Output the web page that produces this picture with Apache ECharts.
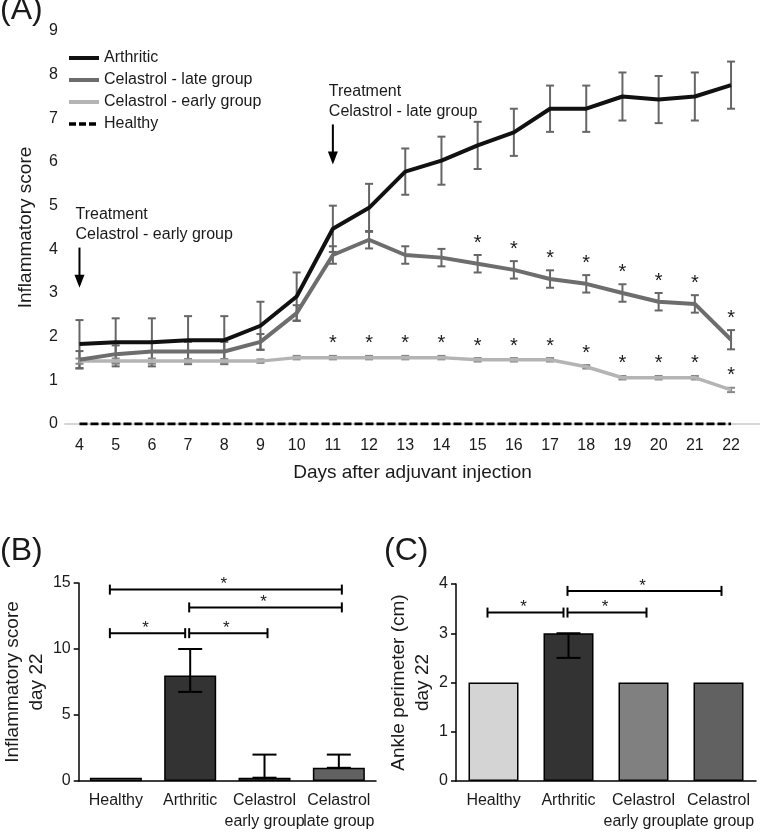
<!DOCTYPE html>
<html><head><meta charset="utf-8">
<script src="https://cdn.jsdelivr.net/npm/echarts@6/dist/echarts.min.js"></script>
<style>html,body{margin:0;padding:0;background:#fff}#c{width:760px;height:832px}</style>
</head><body><div id="c"></div>
<script>
// ---------- Panel A data ----------
const days = [4,5,6,7,8,9,10,11,12,13,14,15,16,17,18,19,20,21,22];
const arthritic    = [1.83,1.87,1.87,1.92,1.92,2.25,2.92,4.47,4.95,5.78,6.03,6.38,6.68,7.22,7.22,7.50,7.43,7.50,7.76];
const arthriticErr = [0.55,0.55,0.55,0.55,0.55,0.55,0.55,0.53,0.55,0.53,0.55,0.54,0.54,0.53,0.53,0.55,0.54,0.55,0.54];
const lateGroup    = [1.47,1.60,1.66,1.66,1.66,1.88,2.54,3.87,4.22,3.87,3.81,3.67,3.53,3.32,3.21,3.00,2.80,2.75,1.93];
const lateErr      = [0.20,0.20,0.22,0.22,0.22,0.18,0.18,0.20,0.20,0.20,0.20,0.20,0.20,0.20,0.20,0.20,0.20,0.20,0.22];
const earlyGroup   = [1.44,1.44,1.44,1.44,1.44,1.44,1.52,1.52,1.52,1.52,1.52,1.47,1.47,1.47,1.31,1.06,1.06,1.06,0.78];
const earlyErr     = [0.06,0.06,0.06,0.05,0.05,0.04,0.04,0.04,0.04,0.04,0.04,0.04,0.04,0.04,0.04,0.04,0.04,0.04,0.05];
const healthy      = [0,0,0,0,0,0,0,0,0,0,0,0,0,0,0,0,0,0,0];
const lateStarDays  = [15,16,17,18,19,20,21,22];
const earlyStarDays = [11,12,13,14,15,16,17,18,19,20,21,22];

// ---------- Panel B / C data ----------
const groups = ['Healthy','Arthritic','Celastrol\nearly group','Celastrol\nlate group'];
const scoreDay22 = [0.25, 8, 0.25, 1];
const scoreLow   = [null, 6.75, 0.25, 1];
const scoreHigh  = [null, 10, 2, 2];
const ankleDay22 = [2, 3, 2, 2];
const ankleLow   = [null, 2.5, null, null];
const ankleHigh  = [null, 3, null, null];
const scoreSig = [[0,3,14.5],[1,3,13.15],[0,1,11.2],[1,2,11.2]];
const ankleSig = [[0,1,3.42],[1,2,3.42],[1,3,3.86]];

// ---------- styles ----------
const FONT = 'Liberation Sans, Arial, Helvetica, sans-serif';
const TXT = '#1a1a1a';
const barColors = ['#d4d4d4','#333333','#808080','#616161'];
const cArth = '#111111', cLate = '#6d6d6d', cEarly = '#b4b4b4', cErr = '#666666';

const chart = echarts.init(document.getElementById('c'), null, {renderer:'canvas'});

function errBarItem(color, cap, lw){
  return function(params, api){
    const x = api.value(0), y = api.value(1), e = api.value(2);
    const t = api.coord([x, y + e]), b = api.coord([x, y - e]);
    const st = {stroke: color, lineWidth: lw};
    return {type:'group', children:[
      {type:'line', shape:{x1:t[0],y1:t[1],x2:b[0],y2:b[1]}, style:st},
      {type:'line', shape:{x1:t[0]-cap,y1:t[1],x2:t[0]+cap,y2:t[1]}, style:st},
      {type:'line', shape:{x1:b[0]-cap,y1:b[1],x2:b[0]+cap,y2:b[1]}, style:st}
    ]};
  };
}
function starItem(params, api){
  const x = api.value(0), top = api.value(1) + api.value(2);
  const p = api.coord([x, top]);
  return {type:'text', style:{text:'*', x:p[0], y:p[1]-12, font:'20px '+FONT, fill:TXT,
    align:'center', verticalAlign:'middle', textAlign:'center', textVerticalAlign:'middle'}};
}
function annItem(params, api){
  const x = api.value(0), y1 = api.value(1), y2 = api.value(2);
  const a = api.coord([x, y1]), b = api.coord([x, y2]);
  const txt = params.dataIndex === 0 ? 'Treatment\nCelastrol - early group' : 'Treatment\nCelastrol - late group';
  return {type:'group', children:[
    {type:'line', shape:{x1:a[0],y1:a[1],x2:b[0],y2:b[1]-10}, style:{stroke:'#000',lineWidth:2}},
    {type:'polygon', shape:{points:[[b[0]-5,b[1]-13],[b[0]+5,b[1]-13],[b[0],b[1]]]}, style:{fill:'#000'}},
    {type:'text', style:{text:txt, x:a[0]-4, y:a[1]-3, font:'16px '+FONT, fill:TXT, lineHeight:20,
      align:'left', verticalAlign:'bottom', textAlign:'left', textVerticalAlign:'bottom'}}
  ]};
}
function catErrItem(params, api){
  const i = api.value(0), lo = api.value(1), hi = api.value(2);
  const t = api.coord([i, hi]), b = api.coord([i, lo]);
  const st = {stroke:'#000', lineWidth:2};
  return {type:'group', children:[
    {type:'line', shape:{x1:t[0],y1:t[1],x2:b[0],y2:b[1]}, style:st},
    {type:'line', shape:{x1:t[0]-12,y1:t[1],x2:t[0]+12,y2:t[1]}, style:st},
    {type:'line', shape:{x1:b[0]-12,y1:b[1],x2:b[0]+12,y2:b[1]}, style:st}
  ]};
}
function sigItem(params, api){
  const i1 = api.value(0), i2 = api.value(1), y = api.value(2);
  const p1 = api.coord([i1, y]), p2 = api.coord([i2, y]);
  const x1 = p1[0] + (i1 === 0 ? -6 : -1);
  const x2 = p2[0] + (i2 === 1 ? -5 : 3);
  const st = {stroke:'#000', lineWidth:2};
  return {type:'group', children:[
    {type:'line', shape:{x1:x1,y1:p1[1],x2:x2,y2:p1[1]}, style:st},
    {type:'line', shape:{x1:x1,y1:p1[1]-5,x2:x1,y2:p1[1]+5}, style:st},
    {type:'line', shape:{x1:x2,y1:p1[1]-5,x2:x2,y2:p1[1]+5}, style:st},
    {type:'text', style:{text:'*', x:(x1+x2)/2-2, y:p1[1]-5, font:'17px '+FONT, fill:TXT,
      align:'center', verticalAlign:'middle', textAlign:'center', textVerticalAlign:'middle'}}
  ]};
}

const zip = (a,b,c) => a.map((v,i)=>[v,b[i],c?c[i]:0]);
const starData = (sd, vals, errs) => sd.map(d => { const i = days.indexOf(d); return [d, vals[i], errs[i]]; });
const catAxisLabel = {color:TXT, fontSize:16, fontFamily:FONT, lineHeight:21, margin:9, interval:0};
const blk = {lineStyle:{color:'#000', width:1.5}};

const option = {
  animation:false,
  textStyle:{fontFamily:FONT},
  graphic:[
    {type:'text', left:0, top:-6, style:{text:'(A)', font:'32px '+FONT, fill:TXT}},
    {type:'text', left:0, top:535, style:{text:'(B)', font:'32px '+FONT, fill:TXT}},
    {type:'text', left:384, top:535, style:{text:'(C)', font:'32px '+FONT, fill:TXT}}
  ],
  legend:{
    left:62, top:44, orient:'vertical', itemWidth:30, itemHeight:14, itemGap:4,
    itemStyle:{opacity:0},
    data:[
      {name:'Arthritic', lineStyle:{width:4, color:cArth}},
      {name:'Celastrol - late group', lineStyle:{width:4, color:cLate}},
      {name:'Celastrol - early group', lineStyle:{width:4, color:cEarly}},
      {name:'Healthy', lineStyle:{width:3.5, color:'#000', type:[7,3]}}
    ],
    textStyle:{color:TXT, fontSize:16, fontFamily:FONT, lineHeight:18}
  },
  grid:[
    {left:65, top:31, width:695, height:393},
    {left:76, top:583, width:300, height:200},
    {left:456, top:584, width:300, height:200}
  ],
  xAxis:[
    {gridIndex:0, type:'value', min:3.6, max:22.8,
     axisLine:{show:true, onZero:false, lineStyle:{color:'#d6d6d6', width:2}},
     axisTick:{show:false}, splitLine:{show:false},
     axisLabel:{customValues:days, color:TXT, fontSize:16, fontFamily:FONT, margin:14},
     name:'Days after adjuvant injection', nameLocation:'middle', nameGap:39,
     nameTextStyle:{color:TXT, fontSize:19, fontFamily:FONT}},
    {gridIndex:1, type:'category', data:groups, axisLine:blk,
     axisTick:{alignWithLabel:true, length:5, lineStyle:{color:'#000', width:1.5}}, axisLabel:catAxisLabel},
    {gridIndex:2, type:'category', data:groups, axisLine:blk,
     axisTick:{alignWithLabel:true, length:5, lineStyle:{color:'#000', width:1.5}}, axisLabel:catAxisLabel}
  ],
  yAxis:[
    {gridIndex:0, type:'value', min:0, max:9, interval:1,
     axisLine:{show:false}, axisTick:{show:false}, splitLine:{show:false},
     axisLabel:{color:TXT, fontSize:16, fontFamily:FONT, margin:7},
     name:'Inflammatory score', nameLocation:'middle', nameGap:30,
     nameTextStyle:{color:TXT, fontSize:19, fontFamily:FONT}},
    {gridIndex:1, type:'value', min:0, max:15, interval:5,
     axisLine:{show:true, lineStyle:{color:'#000', width:1.5}},
     axisTick:{show:true, length:5, lineStyle:{color:'#000', width:1.5}}, splitLine:{show:false},
     axisLabel:{color:TXT, fontSize:16, fontFamily:FONT, margin:8},
     name:'Inflammatory score\nday 22', nameLocation:'middle', nameGap:29,
     nameTextStyle:{color:TXT, fontSize:19, fontFamily:FONT, lineHeight:24}},
    {gridIndex:2, type:'value', min:0, max:4, interval:1,
     axisLine:{show:true, lineStyle:{color:'#000', width:1.5}},
     axisTick:{show:true, length:5, lineStyle:{color:'#000', width:1.5}}, splitLine:{show:false},
     axisLabel:{color:TXT, fontSize:16, fontFamily:FONT, margin:8},
     name:'Ankle perimeter (cm)\nday 22', nameLocation:'middle', nameGap:20,
     nameTextStyle:{color:TXT, fontSize:19, fontFamily:FONT, lineHeight:24}}
  ],
  series:[
    {type:'custom', xAxisIndex:0, yAxisIndex:0, z:1, silent:true, renderItem:errBarItem(cErr,4,2), data:zip(days, arthritic, arthriticErr)},
    {type:'custom', xAxisIndex:0, yAxisIndex:0, z:1, silent:true, renderItem:errBarItem(cErr,4,2), data:zip(days, lateGroup, lateErr)},
    {type:'custom', xAxisIndex:0, yAxisIndex:0, z:1, silent:true, renderItem:errBarItem('#888',4,2), data:zip(days, earlyGroup, earlyErr)},
    {name:'Healthy', type:'line', xAxisIndex:0, yAxisIndex:0, z:3, symbol:'none', showSymbol:false,
     data:days.map((d,i)=>[d,healthy[i]]), lineStyle:{color:'#000', width:3, type:[8,3]}, itemStyle:{color:'#000'}},
    {name:'Celastrol - early group', type:'line', xAxisIndex:0, yAxisIndex:0, z:3, symbol:'none', showSymbol:false,
     data:days.map((d,i)=>[d,earlyGroup[i]]), lineStyle:{color:cEarly, width:3.5}, itemStyle:{color:cEarly}},
    {name:'Celastrol - late group', type:'line', xAxisIndex:0, yAxisIndex:0, z:4, symbol:'none', showSymbol:false,
     data:days.map((d,i)=>[d,lateGroup[i]]), lineStyle:{color:cLate, width:4}, itemStyle:{color:cLate}},
    {name:'Arthritic', type:'line', xAxisIndex:0, yAxisIndex:0, z:5, symbol:'none', showSymbol:false,
     data:days.map((d,i)=>[d,arthritic[i]]), lineStyle:{color:cArth, width:4}, itemStyle:{color:cArth}},
    {type:'custom', xAxisIndex:0, yAxisIndex:0, z:6, silent:true, renderItem:starItem, data:starData(lateStarDays, lateGroup, lateErr)},
    {type:'custom', xAxisIndex:0, yAxisIndex:0, z:6, silent:true, renderItem:starItem, data:starData(earlyStarDays, earlyGroup, earlyErr)},
    {type:'custom', xAxisIndex:0, yAxisIndex:0, z:6, silent:true, renderItem:annItem, data:[[4,4.04,3.12],[11,6.86,5.94]]},
    {type:'bar', xAxisIndex:1, yAxisIndex:1, barWidth:52, z:2,
     data:scoreDay22.map((v,i)=>({value:v, itemStyle:{color:barColors[i], borderColor:'#000', borderWidth:1.5}}))},
    {type:'custom', xAxisIndex:1, yAxisIndex:1, z:3, silent:true, renderItem:catErrItem,
     data:scoreHigh.map((h,i)=>h==null?null:[i, scoreLow[i], h]).filter(Boolean)},
    {type:'custom', xAxisIndex:1, yAxisIndex:1, z:3, silent:true, renderItem:sigItem, data:scoreSig},
    {type:'bar', xAxisIndex:2, yAxisIndex:2, barWidth:50, z:2,
     data:ankleDay22.map((v,i)=>({value:v, itemStyle:{color:barColors[i], borderColor:'#000', borderWidth:1.5}}))},
    {type:'custom', xAxisIndex:2, yAxisIndex:2, z:3, silent:true, renderItem:catErrItem,
     data:ankleHigh.map((h,i)=>h==null?null:[i, ankleLow[i], h]).filter(Boolean)},
    {type:'custom', xAxisIndex:2, yAxisIndex:2, z:3, silent:true, renderItem:sigItem, data:ankleSig}
  ]
};
chart.setOption(option);
</script></body></html>
